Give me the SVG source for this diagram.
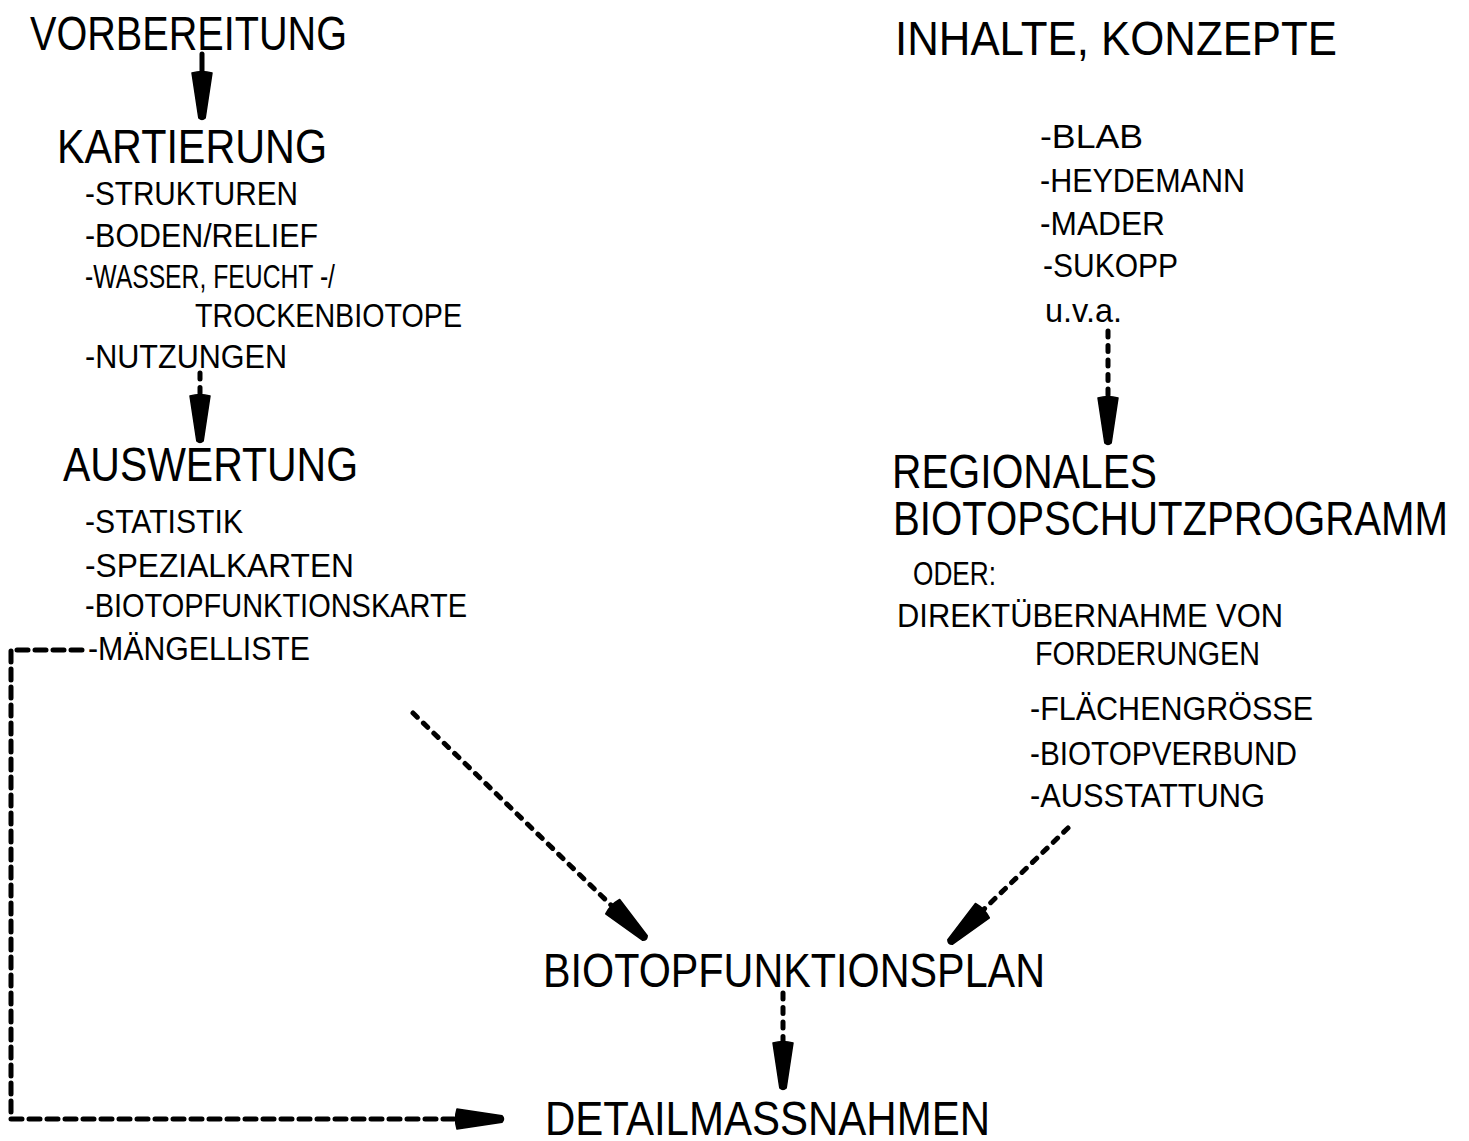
<svg xmlns="http://www.w3.org/2000/svg" width="1469" height="1141" viewBox="0 0 1469 1141">
<style>
text{font-family:"Liberation Sans",Arial,sans-serif;fill:#000}
.big{font-size:48px}
.sm{font-size:33px}
.ln{fill:none;stroke:#000;stroke-width:5;stroke-linecap:round;stroke-linejoin:round}
.d{stroke-dasharray:6 8.5}
.d2{stroke-dasharray:11 7}
</style>
<defs>
<marker id="ah" markerUnits="userSpaceOnUse" viewBox="-4 -12 56 24" refX="0" refY="0" markerWidth="56" markerHeight="24" orient="auto" overflow="visible">
<path d="M0,-10 Q-3,0 0,10 L45,3.2 Q48,0 45,-3.2 Z" fill="#000" stroke="#000" stroke-width="1.5" stroke-linejoin="round"/>
</marker>
</defs>
<rect width="1469" height="1141" fill="#fff"/>
<g id="connectors">
<path class="ln" d="M202,54 V73" marker-end="url(#ah)"/>
<path class="ln d" d="M200,373 V396" marker-end="url(#ah)"/>
<path class="ln d" d="M1108,331 V398" marker-end="url(#ah)"/>
<path class="ln d" d="M413,713 L612.7,906.7" marker-end="url(#ah)"/>
<path class="ln d" d="M1068,828 L982.4,910.7" marker-end="url(#ah)"/>
<path class="ln d" d="M783,993 V1043" marker-end="url(#ah)"/>
<path class="ln d2" d="M82,650 H11 V1119 H457" marker-end="url(#ah)"/>
</g>
<g id="vorbereitung"><text class="big" x="30" y="50" textLength="317" lengthAdjust="spacingAndGlyphs">VORBEREITUNG</text></g>
<g id="kartierung">
<text class="big" x="57" y="163" textLength="270" lengthAdjust="spacingAndGlyphs">KARTIERUNG</text>
<text class="sm" x="85" y="205" textLength="213" lengthAdjust="spacingAndGlyphs">-STRUKTUREN</text>
<text class="sm" x="85" y="247" textLength="233" lengthAdjust="spacingAndGlyphs">-BODEN/RELIEF</text>
<text class="sm" x="85" y="288" textLength="250" lengthAdjust="spacingAndGlyphs">-WASSER, FEUCHT -/</text>
<text class="sm" x="195" y="327" textLength="267" lengthAdjust="spacingAndGlyphs">TROCKENBIOTOPE</text>
<text class="sm" x="85" y="368" textLength="202" lengthAdjust="spacingAndGlyphs">-NUTZUNGEN</text>
</g>
<g id="auswertung">
<text class="big" x="63" y="481" textLength="295" lengthAdjust="spacingAndGlyphs">AUSWERTUNG</text>
<text class="sm" x="85" y="533" textLength="158" lengthAdjust="spacingAndGlyphs">-STATISTIK</text>
<text class="sm" x="85" y="577" textLength="269" lengthAdjust="spacingAndGlyphs">-SPEZIALKARTEN</text>
<text class="sm" x="85" y="617" textLength="382" lengthAdjust="spacingAndGlyphs">-BIOTOPFUNKTIONSKARTE</text>
<text class="sm" x="88" y="660" textLength="222" lengthAdjust="spacingAndGlyphs">-MÄNGELLISTE</text>
</g>
<g id="inhalte">
<text class="big" x="895" y="55" textLength="442" lengthAdjust="spacingAndGlyphs">INHALTE, KONZEPTE</text>
<text class="sm" x="1040" y="148" textLength="103" lengthAdjust="spacingAndGlyphs">-BLAB</text>
<text class="sm" x="1040" y="192" textLength="205" lengthAdjust="spacingAndGlyphs">-HEYDEMANN</text>
<text class="sm" x="1040" y="235" textLength="125" lengthAdjust="spacingAndGlyphs">-MADER</text>
<text class="sm" x="1043" y="277" textLength="135" lengthAdjust="spacingAndGlyphs">-SUKOPP</text>
<text class="sm" x="1045" y="322" textLength="77" lengthAdjust="spacingAndGlyphs">u.v.a.</text>
</g>
<g id="regionales">
<text class="big" x="892" y="488" textLength="265" lengthAdjust="spacingAndGlyphs">REGIONALES</text>
<text class="big" x="893" y="535" textLength="555" lengthAdjust="spacingAndGlyphs">BIOTOPSCHUTZPROGRAMM</text>
<text class="sm" x="913" y="585" textLength="83" lengthAdjust="spacingAndGlyphs">ODER:</text>
<text class="sm" x="897" y="627" textLength="386" lengthAdjust="spacingAndGlyphs">DIREKTÜBERNAHME VON</text>
<text class="sm" x="1035" y="665" textLength="225" lengthAdjust="spacingAndGlyphs">FORDERUNGEN</text>
<text class="sm" x="1030" y="720" textLength="283" lengthAdjust="spacingAndGlyphs">-FLÄCHENGRÖSSE</text>
<text class="sm" x="1030" y="765" textLength="267" lengthAdjust="spacingAndGlyphs">-BIOTOPVERBUND</text>
<text class="sm" x="1030" y="807" textLength="235" lengthAdjust="spacingAndGlyphs">-AUSSTATTUNG</text>
</g>
<g id="biotopfunktionsplan"><text class="big" x="543" y="987" textLength="502" lengthAdjust="spacingAndGlyphs">BIOTOPFUNKTIONSPLAN</text></g>
<g id="detailmassnahmen"><text class="big" x="545" y="1135" textLength="445" lengthAdjust="spacingAndGlyphs">DETAILMASSNAHMEN</text></g>
</svg>
